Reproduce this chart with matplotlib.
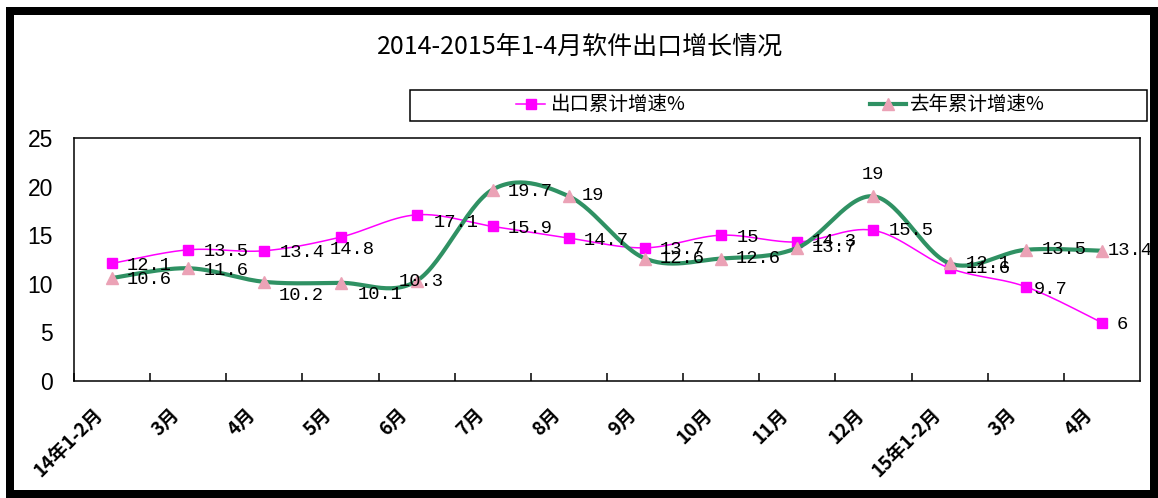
import numpy as np
import matplotlib
matplotlib.use("Agg")
import matplotlib.pyplot as plt
import matplotlib.transforms as mtransforms
from matplotlib.lines import Line2D
from matplotlib.patches import Rectangle

# ---- data -----------------------------------------------------------------
title = "2014-2015年1-4月软件出口增长情况"
months = ["14年1-2月", "3月", "4月", "5月", "6月", "7月", "8月", "9月",
          "10月", "11月", "12月", "15年1-2月", "3月", "4月"]
series_names = ["出口累计增速%", "去年累计增速%"]
export_growth = [12.1, 13.5, 13.4, 14.8, 17.1, 15.9, 14.7, 13.7, 15, 14.3, 15.5, 11.6, 9.7, 6]
last_year_growth = [10.6, 11.6, 10.2, 10.1, 10.3, 19.7, 19, 12.6, 12.6, 13.7, 19, 12.1, 13.5, 13.4]
y_ticks = [0, 5, 10, 15, 20, 25]

# ---- styles ---------------------------------------------------------------
MAGENTA = "#FF00FF"
GREEN = "#2F9163"
PINK = "#EBA2B6"
CJK = ["Noto Sans CJK SC", "DejaVu Sans"]
LABEL_FONT = dict(family="Liberation Mono", size=13.5, color="black")

# label offsets in pixels (dx to left edge of text, dy downward); default otherwise
DEFAULT_OFF = (15, 2)
export_off = {3: (-11, 12), 4: (17, 8), 9: (14, -1), 10: (15, 0), 11: (16, 0), 12: (8, 3)}
last_off = {2: (14, 14), 3: (17, 12), 4: (-18, 1), 6: (13, -1), 7: (15, 0), 8: (14, 0),
            9: (14, 0), 10: (-12, -22), 11: (16, 0), 12: (16, 0), 13: (6, 0)}


def smooth(ys, n=30):
    """Bezier smoothing through every point (Catmull-Rom style control points)."""
    P = np.column_stack([np.arange(len(ys), dtype=float), np.asarray(ys, float)])
    Q = np.vstack([P[:1], P, P[-1:]])
    t = np.linspace(0, 1, n + 1)[1:, None]
    pts = [P[:1]]
    for i in range(len(P) - 1):
        p0, p3 = Q[i + 1], Q[i + 2]
        c1 = p0 + (Q[i + 2] - Q[i]) / 6.0
        c2 = p3 - (Q[i + 3] - Q[i + 1]) / 6.0
        seg = ((1 - t) ** 3) * p0 + 3 * ((1 - t) ** 2) * t * c1 + 3 * (1 - t) * t ** 2 * c2 + t ** 3 * p3
        pts.append(seg)
    pts = np.vstack(pts)
    return pts[:, 0], pts[:, 1]


W, H = 1158, 498
fig = plt.figure(figsize=(W / 100, H / 100), dpi=100)
fig.patch.set_facecolor("white")

# black frame around the chart
fig.add_artist(Rectangle((6 / W, 0), 1152 / W, 491 / H, transform=fig.transFigure,
                         facecolor="black", edgecolor="none", zorder=-2))
fig.add_artist(Rectangle((14 / W, 8 / H), 1136 / W, 475 / H, transform=fig.transFigure,
                         facecolor="white", edgecolor="none", zorder=-1))

ax = fig.add_axes([74 / W, (H - 381) / H, 1066 / W, 243 / H])
ax.set_facecolor("white")
x = np.arange(len(months))

# export growth: thin smoothed magenta line with square markers
sx, sy = smooth(export_growth)
ax.plot(sx, sy, color=MAGENTA, lw=1.1, zorder=2)
ax.plot(x, export_growth, ls="none", marker="s", ms=7, mfc=MAGENTA, mec=MAGENTA, zorder=3)

# last year's growth: thick smoothed green line with pink triangles
gx, gy = smooth(last_year_growth)
ax.plot(gx, gy, color=GREEN, lw=3.0, zorder=4, solid_capstyle="round")
ax.plot(x, last_year_growth, ls="none", marker="^", ms=8, mfc=PINK, mec=PINK, zorder=5)

for values, offs in ((export_growth, export_off), (last_year_growth, last_off)):
    for i, v in enumerate(values):
        dx, dy = offs.get(i, DEFAULT_OFF)
        ax.annotate(f"{v:g}", (i, v), xytext=(dx, -dy), textcoords="offset pixels",
                    ha="left", va="center", zorder=6, **LABEL_FONT)

ax.set_xlim(-0.5, len(months) - 0.5)
ax.set_ylim(0, 25)
ax.set_yticks(y_ticks)
ax.set_yticklabels([str(t) for t in y_ticks], family="Liberation Sans", fontsize=16.5)
ax.tick_params(axis="y", length=0, pad=15)

ax.set_xticks(x - 0.5)
ax.set_xticklabels(months, family=CJK, fontsize=13.5, fontweight="bold")
ax.tick_params(axis="x", direction="in", length=6, width=1.1, pad=17)
shift = mtransforms.ScaledTranslation(0.19, 0, fig.dpi_scale_trans)
for lab in ax.get_xticklabels():
    lab.set_rotation(45)
    lab.set_ha("right")
    lab.set_va("top")
    lab.set_rotation_mode("anchor")
    lab.set_transform(lab.get_transform() + shift)

for sp in ax.spines.values():
    sp.set_color("black")
    sp.set_linewidth(1.1)

# title
fig.text(580 / W, 1 - 47 / H, title, ha="center", va="center", family=CJK, fontsize=18)

# legend box and entries
fig.add_artist(Rectangle((410 / W, (H - 121) / H), 737 / W, 31 / H, transform=fig.transFigure,
                         facecolor="white", edgecolor="black", lw=1.1, zorder=1))
h1 = Line2D([], [], color=MAGENTA, lw=1.1, marker="s", ms=7, mfc=MAGENTA, mec=MAGENTA)
h2 = Line2D([], [], color=GREEN, lw=3.0, marker="^", ms=8, mfc=PINK, mec=PINK)
leg_font = dict(family=CJK, size=14)
for handle, name, x0, hl, pad in ((h1, series_names[0], 516, 1.5, 0.3),
                                  (h2, series_names[1], 870, 1.85, 0.2)):
    lg = fig.legend(handles=[handle], labels=[name], loc="center left",
                    bbox_to_anchor=(x0 / W, 1 - 105 / H), frameon=False, borderpad=0,
                    borderaxespad=0, handlelength=hl, handletextpad=pad, prop=leg_font)
    lg.set_zorder(2)

fig.savefig("out.png", dpi=100)
